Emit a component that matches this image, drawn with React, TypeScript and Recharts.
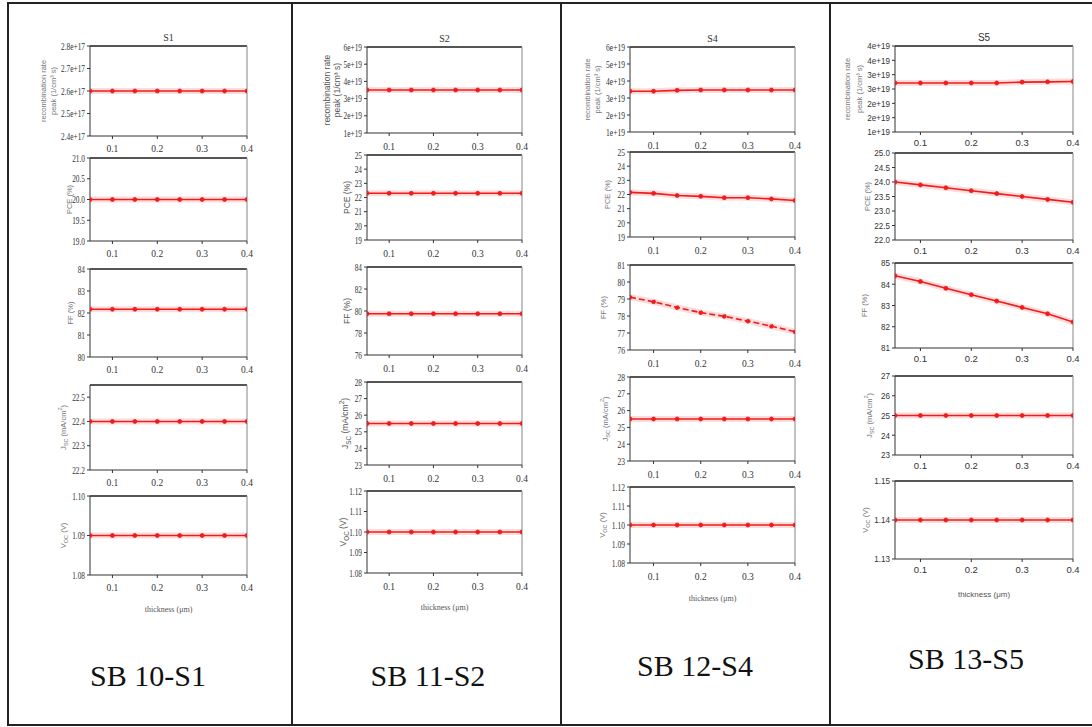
import React from 'react';
import { LineChart, Line, XAxis, YAxis, ReferenceLine } from 'recharts';

const thickness = [0.05, 0.1, 0.15, 0.2, 0.25, 0.3, 0.35, 0.4];
const xTicks = [0.1, 0.2, 0.3, 0.4];

// SB 10 - S1
const s1Recomb = [2.6e17, 2.6e17, 2.6e17, 2.6e17, 2.6e17, 2.6e17, 2.6e17, 2.6e17];
const s1Pce = [20.0, 20.0, 20.0, 20.0, 20.0, 20.0, 20.0, 20.0];
const s1Ff = [82.17, 82.17, 82.17, 82.17, 82.17, 82.17, 82.17, 82.17];
const s1Jsc = [22.4, 22.4, 22.4, 22.4, 22.4, 22.4, 22.4, 22.4];
const s1Voc = [1.09, 1.09, 1.09, 1.09, 1.09, 1.09, 1.09, 1.09];
const s1RecombTicks = [2.4e17, 2.5e17, 2.6e17, 2.7e17, 2.8e17];
const s1PceTicks = [19.0, 19.5, 20.0, 20.5, 21.0];
const s1FfTicks = [80, 81, 82, 83, 84];
const s1JscTicks = [22.2, 22.3, 22.4, 22.5];
const s1VocTicks = [1.08, 1.09, 1.1];

// SB 11 - S2
const s2Recomb = [3.5e19, 3.5e19, 3.5e19, 3.5e19, 3.5e19, 3.5e19, 3.5e19, 3.5e19];
const s2Pce = [22.3, 22.3, 22.3, 22.3, 22.3, 22.3, 22.3, 22.3];
const s2Ff = [79.75, 79.75, 79.75, 79.75, 79.75, 79.75, 79.75, 79.75];
const s2Jsc = [25.5, 25.5, 25.5, 25.5, 25.5, 25.5, 25.5, 25.5];
const s2Voc = [1.1, 1.1, 1.1, 1.1, 1.1, 1.1, 1.1, 1.1];
const s2RecombTicks = [1e19, 2e19, 3e19, 4e19, 5e19, 6e19];
const s2PceTicks = [19, 20, 21, 22, 23, 24, 25];
const s2FfTicks = [76, 78, 80, 82, 84];
const s2JscTicks = [23, 24, 25, 26, 27, 28];
const s2VocTicks = [1.08, 1.09, 1.1, 1.11, 1.12];

// SB 12 - S4
const s4Recomb = [3.4e19, 3.4e19, 3.45e19, 3.47e19, 3.47e19, 3.47e19, 3.47e19, 3.47e19];
const s4Pce = [22.15, 22.08, 21.93, 21.87, 21.77, 21.77, 21.69, 21.58];
const s4Ff = [79.1, 78.84, 78.5, 78.2, 77.98, 77.7, 77.4, 77.08];
const s4Jsc = [25.5, 25.5, 25.5, 25.5, 25.5, 25.5, 25.5, 25.5];
const s4Voc = [1.1, 1.1, 1.1, 1.1, 1.1, 1.1, 1.1, 1.1];
const s4FfTicks = [76, 77, 78, 79, 80, 81];

// SB 13 - S5
const s5Recomb = [2.71e19, 2.71e19, 2.71e19, 2.71e19, 2.71e19, 2.74e19, 2.75e19, 2.76e19];
const s5Pce = [24.0, 23.9, 23.8, 23.7, 23.6, 23.5, 23.4, 23.3];
const s5Ff = [84.4, 84.13, 83.81, 83.51, 83.21, 82.91, 82.61, 82.22];
const s5Jsc = [25, 25, 25, 25, 25, 25, 25, 25];
const s5Voc = [1.14, 1.14, 1.14, 1.14, 1.14, 1.14, 1.14, 1.14];
const s5RecombTicks = [1e19, 1.5e19, 2e19, 2.5e19, 3e19, 3.5e19, 4e19];
const s5PceTicks = [22.0, 22.5, 23.0, 23.5, 24.0, 24.5, 25.0];
const s5FfTicks = [81, 82, 83, 84, 85];
const s5JscTicks = [23, 24, 25, 26, 27];
const s5VocTicks = [1.13, 1.14, 1.15];

const RED = '#ee1c1c';

const exp1 = (v: number) => v.toExponential(1);
const exp0 = (v: number) => v.toExponential(0);
const fix0 = (v: number) => v.toFixed(0);
const fix1 = (v: number) => v.toFixed(1);
const fix2 = (v: number) => v.toFixed(2);

const TITLES: Record<string, React.ReactNode[]> = {
  recomb: ['recombination rate', 'peak (1/cm³ s)'],
  pce: ['PCE (%)'],
  ff: ['FF (%)'],
  jsc: [
    <>
      J<tspan baselineShift="sub" fontSize="75%">SC</tspan> (mA/cm<tspan baselineShift="super" fontSize="75%">2</tspan>)
    </>,
  ],
  voc: [
    <>
      V<tspan baselineShift="sub" fontSize="75%">OC</tspan> (V)
    </>,
  ],
};

interface PanelCfg {
  metric: string;
  values: number[];
  ticks: number[];
  domain: [number, number];
  fmt: (v: number) => string;
  dashed?: boolean;
}

interface ColumnCfg {
  title: string;
  caption: string;
  captionX: number;
  captionY: number;
  left: number;
  right: number;
  boxes: [number, number][];
  titleDx: number[][];
  titleSize: number;
  titleFill: string;
  font: string;
  tickSize: number;
  squeeze: number;
  xGap: number;
  xLabelY: number;
  panels: PanelCfg[];
}

const ends = (t: number[]): [number, number] => [t[0], t[t.length - 1]];

const columns: ColumnCfg[] = [
  {
    title: 'S1',
    caption: 'SB 10-S1',
    captionX: 148,
    captionY: 686,
    left: 90,
    right: 247,
    boxes: [[46, 136], [158, 241], [269, 357], [385, 470], [496, 575]],
    titleDx: [[47, 37], [21], [20], [27], [27]],
    titleSize: 7.5,
    titleFill: '#777',
    font: 'Liberation Serif',
    tickSize: 10.5,
    squeeze: 0.7,
    xGap: 6,
    xLabelY: 606,
    panels: [
      { metric: 'recomb', values: s1Recomb, ticks: s1RecombTicks, domain: ends(s1RecombTicks), fmt: exp1 },
      { metric: 'pce', values: s1Pce, ticks: s1PceTicks, domain: ends(s1PceTicks), fmt: fix1 },
      { metric: 'ff', values: s1Ff, ticks: s1FfTicks, domain: ends(s1FfTicks), fmt: fix0 },
      { metric: 'jsc', values: s1Jsc, ticks: s1JscTicks, domain: [22.2, 22.55], fmt: fix1 },
      { metric: 'voc', values: s1Voc, ticks: s1VocTicks, domain: ends(s1VocTicks), fmt: fix2 },
    ],
  },
  {
    title: 'S2',
    caption: 'SB 11-S2',
    captionX: 428,
    captionY: 686,
    left: 367,
    right: 522,
    boxes: [[47, 133], [155, 240], [267, 355], [382, 465], [491, 573]],
    titleDx: [[40, 30], [20], [20], [22], [24]],
    titleSize: 8.5,
    titleFill: '#555',
    font: 'Liberation Serif',
    tickSize: 10.5,
    squeeze: 0.7,
    xGap: 7,
    xLabelY: 604,
    panels: [
      { metric: 'recomb', values: s2Recomb, ticks: s2RecombTicks, domain: ends(s2RecombTicks), fmt: exp0 },
      { metric: 'pce', values: s2Pce, ticks: s2PceTicks, domain: ends(s2PceTicks), fmt: fix0 },
      { metric: 'ff', values: s2Ff, ticks: s2FfTicks, domain: ends(s2FfTicks), fmt: fix0 },
      { metric: 'jsc', values: s2Jsc, ticks: s2JscTicks, domain: ends(s2JscTicks), fmt: fix0 },
      { metric: 'voc', values: s2Voc, ticks: s2VocTicks, domain: ends(s2VocTicks), fmt: fix2 },
    ],
  },
  {
    title: 'S4',
    caption: 'SB 12-S4',
    captionX: 695,
    captionY: 676,
    left: 630,
    right: 795,
    boxes: [[47, 132], [152, 237], [265, 350], [377, 461], [487, 563]],
    titleDx: [[43, 33], [23], [27], [25], [28]],
    titleSize: 7.5,
    titleFill: '#777',
    font: 'Liberation Serif',
    tickSize: 10.5,
    squeeze: 0.72,
    xGap: 7,
    xLabelY: 595,
    panels: [
      { metric: 'recomb', values: s4Recomb, ticks: s2RecombTicks, domain: ends(s2RecombTicks), fmt: exp0 },
      { metric: 'pce', values: s4Pce, ticks: s2PceTicks, domain: ends(s2PceTicks), fmt: fix0 },
      { metric: 'ff', values: s4Ff, ticks: s4FfTicks, domain: ends(s4FfTicks), fmt: fix0, dashed: true },
      { metric: 'jsc', values: s4Jsc, ticks: s2JscTicks, domain: ends(s2JscTicks), fmt: fix0 },
      { metric: 'voc', values: s4Voc, ticks: s2VocTicks, domain: ends(s2VocTicks), fmt: fix2 },
    ],
  },
  {
    title: 'S5',
    caption: 'SB 13-S5',
    captionX: 966,
    captionY: 669,
    left: 895,
    right: 1073,
    boxes: [[46, 132], [153, 240], [263, 348], [376, 455], [481, 559]],
    titleDx: [[48, 36], [28], [31], [26], [30]],
    titleSize: 7.5,
    titleFill: '#777',
    font: 'Liberation Sans',
    tickSize: 9.5,
    squeeze: 0.85,
    xGap: 4,
    xLabelY: 591,
    panels: [
      { metric: 'recomb', values: s5Recomb, ticks: s5RecombTicks, domain: ends(s5RecombTicks), fmt: exp0 },
      { metric: 'pce', values: s5Pce, ticks: s5PceTicks, domain: ends(s5PceTicks), fmt: fix1 },
      { metric: 'ff', values: s5Ff, ticks: s5FfTicks, domain: ends(s5FfTicks), fmt: fix0 },
      { metric: 'jsc', values: s5Jsc, ticks: s5JscTicks, domain: ends(s5JscTicks), fmt: fix0 },
      { metric: 'voc', values: s5Voc, ticks: s5VocTicks, domain: ends(s5VocTicks), fmt: fix2 },
    ],
  },
];

const Y_W = 64;
const M_TOP = 16;
const X_H = 22;

function YTitle(props: any) {
  const { viewBox, lines, dxs, fontSize, fill, plotH } = props;
  const vb = viewBox || {};
  const plotLeft = vb.width != null ? vb.x + vb.width : Y_W;
  const cy = vb.height != null ? vb.y + vb.height / 2 : M_TOP + plotH / 2;
  return (
    <g>
      {lines.map((ln: React.ReactNode, i: number) => {
        const cx = plotLeft - dxs[i];
        return (
          <text
            key={i}
            x={cx}
            y={cy}
            transform={`rotate(-90 ${cx} ${cy})`}
            textAnchor="middle"
            dominantBaseline="central"
            fontSize={fontSize}
            fill={fill}
            fontFamily="Liberation Sans"
          >
            {ln}
          </text>
        );
      })}
    </g>
  );
}

// narrow tick labels, as in the squeezed original figure
function YTick(props: any) {
  const { x, y, payload, fmt, font, size, squeeze } = props;
  return (
    <g transform={`translate(${x},${y}) scale(${squeeze},1)`}>
      <text x={0} y={0} dy="0.35em" textAnchor="end" fontSize={size} fill="#333" fontFamily={font}>
        {fmt(payload.value)}
      </text>
    </g>
  );
}

function Panel({ col, idx }: { col: ColumnCfg; idx: number }) {
  const p = col.panels[idx];
  const [top, bottom] = col.boxes[idx];
  const isFirst = idx === 0;
  const isLast = idx === col.panels.length - 1;
  const extra = isLast ? 26 : 0;
  const plotH = bottom - top;
  const width = col.right - col.left + Y_W + 12;
  const height = plotH + M_TOP + X_H + extra;
  const data = thickness.map((t, i) => ({ t, v: p.values[i] }));
  const tickStyle = { fontSize: 9.5, fill: '#333', fontFamily: col.font };

  return (
    <div style={{ position: 'absolute', left: col.left - Y_W, top: top - M_TOP, fontFamily: col.font }}>
      <LineChart
        width={width}
        height={height}
        data={data}
        margin={{ top: M_TOP, right: 12, bottom: extra, left: 0 }}
        style={{ fontFamily: col.font }}
      >
        <XAxis
          dataKey="t"
          type="number"
          domain={[0.05, 0.4]}
          ticks={xTicks}
          interval={0}
          allowDataOverflow
          tickFormatter={fix1}
          height={X_H}
          tick={tickStyle}
          tickSize={3}
          tickMargin={col.xGap}
          stroke="#333"
          label={
            isLast
              ? {
                  value: 'thickness (μm)',
                  position: 'bottom',
                  offset: col.xLabelY - bottom - X_H,
                  fontSize: 8,
                  fill: '#555',
                  fontFamily: col.font,
                }
              : undefined
          }
        />
        <YAxis
          type="number"
          domain={p.domain}
          ticks={p.ticks}
          interval={0}
          allowDataOverflow
          width={Y_W}
          tick={<YTick fmt={p.fmt} font={col.font} size={col.tickSize} squeeze={col.squeeze} />}
          tickSize={3}
          tickMargin={2}
          stroke="#333"
          label={
            <YTitle
              lines={TITLES[p.metric]}
              dxs={col.titleDx[idx]}
              fontSize={col.titleSize}
              fill={col.titleFill}
              plotH={plotH}
            />
          }
        />
        <ReferenceLine
          y={p.domain[1]}
          stroke="#555"
          strokeWidth={2}
          label={
            isFirst
              ? { value: col.title, position: 'top', offset: 5, fontSize: 10, fill: '#333', fontFamily: col.font }
              : undefined
          }
        />
        <ReferenceLine x={0.4} stroke="#999" strokeWidth={1.2} />
        <Line
          dataKey="v"
          name="halo"
          stroke="#ff8a8a"
          strokeWidth={6}
          strokeOpacity={0.3}
          dot={false}
          isAnimationActive={false}
        />
        <Line
          dataKey="v"
          name={p.metric}
          stroke={RED}
          strokeWidth={1.6}
          strokeDasharray={p.dashed ? '6 3' : undefined}
          dot={{ r: 2, fill: RED, stroke: RED, strokeWidth: 0.8 }}
          isAnimationActive={false}
        />
      </LineChart>
    </div>
  );
}

const line = (left: number, top: number, width: number, height: number) => (
  <div style={{ position: 'absolute', left, top, width, height, background: '#222' }} />
);

export default function App() {
  return (
    <div style={{ position: 'absolute', left: 0, top: 0, width: 1092, height: 727, background: '#fff', overflow: 'hidden' }}>
      {line(7, 2, 1085, 2)}
      {line(7, 2, 2, 724)}
      {line(7, 724, 1085, 2)}
      {line(291, 2, 2, 724)}
      {line(560, 2, 2, 724)}
      {line(829, 2, 2, 724)}
      {columns.map((col) => (
        <React.Fragment key={col.title}>
          {col.panels.map((_, i) => (
            <Panel key={i} col={col} idx={i} />
          ))}
          <div
            style={{
              position: 'absolute',
              left: col.captionX - 100,
              width: 200,
              top: col.captionY - 27,
              textAlign: 'center',
              fontFamily: 'Liberation Serif',
              fontSize: 30,
              lineHeight: '34px',
              color: '#111',
            }}
          >
            {col.caption}
          </div>
        </React.Fragment>
      ))}
    </div>
  );
}
